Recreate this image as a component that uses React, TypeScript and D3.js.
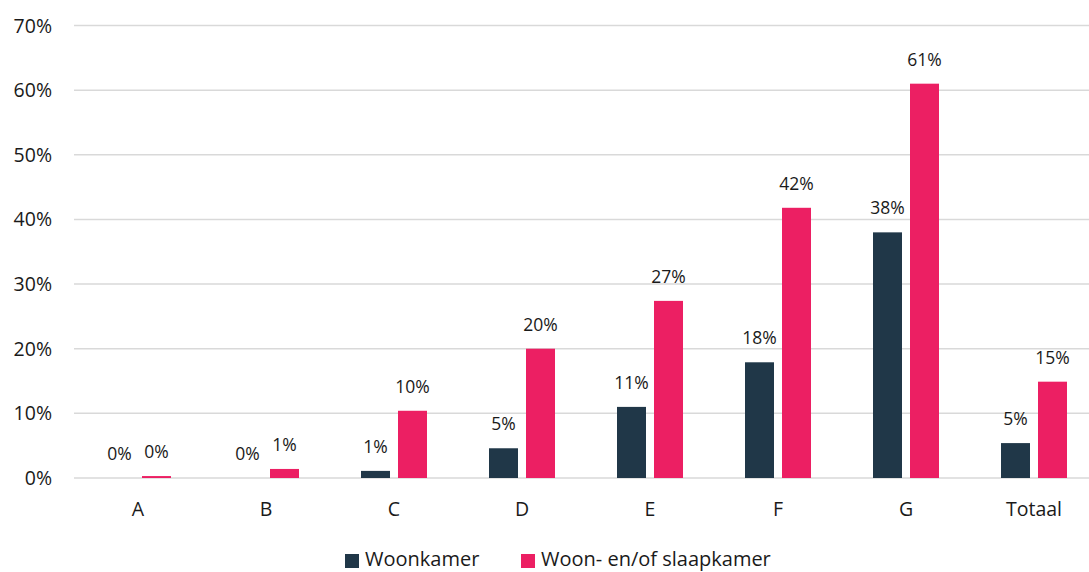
import React from "react";
import * as d3 from "d3";

const categories = ["A", "B", "C", "D", "E", "F", "G", "Totaal"];
const seriesNames = ["Woonkamer", "Woon- en/of slaapkamer"];
const woonkamer = [0.0, 0.0, 1.1, 4.6, 11.0, 17.9, 38.0, 5.4];
const woonSlaap = [0.3, 1.4, 10.4, 20.0, 27.4, 41.8, 61.0, 14.9];
const colors = ["#203748", "#EC1F63"];
const yTicks = [0, 10, 20, 30, 40, 50, 60, 70];

const W = 1089;
const H = 572;
const FONT = "'Open Sans', sans-serif";

export default function App() {
  const x0 = d3
    .scaleBand<string>()
    .domain(categories)
    .range([74, 1098])
    .paddingInner(62 / 128)
    .paddingOuter(31 / 128);
  const x1 = d3
    .scaleBand<string>()
    .domain(seriesNames)
    .range([0, x0.bandwidth()])
    .paddingInner(2 - 66 / 37)
    .paddingOuter(0);
  const y = d3.scaleLinear().domain([0, 70]).range([478, 25.5]);
  const values = [woonkamer, woonSlaap];

  return (
    <div style={{ position: "fixed", left: 0, top: 0 }}>
      <svg width={W} height={H} style={{ display: "block", background: "#fff" }}>
        {yTicks.map((t) => (
          <g key={t}>
            <line x1={74} x2={W} y1={y(t)} y2={y(t)} stroke="#d9d9d9" strokeWidth={1.5} />
            <text
              x={52}
              y={y(t)}
              dy="0.36em"
              textAnchor="end"
              fontFamily={FONT}
              fontSize={19.5}
              fill="#1a1a1a"
            >
              {t}%
            </text>
          </g>
        ))}
        {categories.map((c, i) => (
          <g key={c} transform={`translate(${x0(c)},0)`}>
            {seriesNames.map((s, si) => {
              const v = values[si][i];
              const bx = x1(s)!;
              const top = y(v);
              return (
                <g key={s}>
                  {v > 0 && (
                    <rect
                      x={bx}
                      y={top}
                      width={x1.bandwidth()}
                      height={y(0) - top}
                      fill={colors[si]}
                    />
                  )}
                  <text
                    x={bx + x1.bandwidth() / 2}
                    y={top - 18}
                    textAnchor="middle"
                    fontFamily={FONT}
                    fontSize={17.5}
                    fill="#1a1a1a"
                  >
                    {Math.round(v)}%
                  </text>
                </g>
              );
            })}
            <text
              x={x0.bandwidth() / 2}
              y={516}
              textAnchor="middle"
              fontFamily={FONT}
              fontSize={19.5}
              fill="#1a1a1a"
            >
              {c}
            </text>
          </g>
        ))}
        {seriesNames.map((s, si) => {
          const lx = si === 0 ? 345 : 521;
          return (
            <g key={s}>
              <rect x={lx} y={554} width={14} height={14} fill={colors[si]} />
              <text x={lx + 20} y={566} fontFamily={FONT} fontSize={20} fill="#1a1a1a">
                {s}
              </text>
            </g>
          );
        })}
      </svg>
    </div>
  );
}
